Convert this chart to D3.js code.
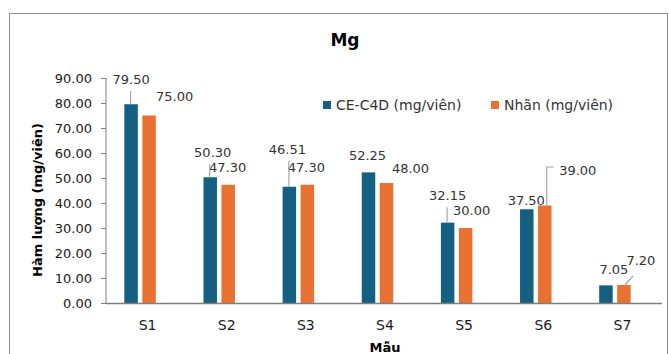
<!DOCTYPE html>
<html>
<head>
<meta charset="utf-8">
<script src="https://cdn.jsdelivr.net/npm/d3@7/dist/d3.min.js"></script>
<style>
  html, body { margin: 0; padding: 0; background: #fff; }
  svg { display: block; font-family: "DejaVu Sans", sans-serif; }
</style>
</head>
<body>
<svg id="chart" width="669" height="354"></svg>
<script>
// Samples and measured Mg content (mg/viên)
const categories = ["S1", "S2", "S3", "S4", "S5", "S6", "S7"];
const seriesNames = ["CE-C4D (mg/viên)", "Nhãn (mg/viên)"];
const ceC4D = [79.50, 50.30, 46.51, 52.25, 32.15, 37.50, 7.05];
const nhan = [75.00, 47.30, 47.30, 48.00, 30.00, 39.00, 7.20];
const yTicks = [0, 10, 20, 30, 40, 50, 60, 70, 80, 90];

const colors = ["#156082", "#E97132"];

// Label placement relative to the top of each bar: [dx, dy] and an optional leader path
const labelPos = [
  [[0, -20, "v"], [25.5, -14.5]],
  [[2.5, -20, "v"], [-0.5, -12.5]],
  [[-2, -33, "v"], [-1, -12.5]],
  [[-1, -12.5], [24, -10]],
  [[0, -22.5, "v"], [6, -13]],
  [[-0.5, -4], [33, -30.5, "elbow"]],
  [[8, -11.5], [17, -20, "diag"]]
];

const svg = d3.select("#chart");
const margin = { left: 106, right: 662, top: 78, bottom: 303 };

// Chart frame
svg.append("rect")
  .attr("x", 9.5).attr("y", 13.5)
  .attr("width", 658).attr("height", 400)
  .attr("fill", "none").attr("stroke", "#8c8c8c").attr("stroke-width", 1);

// Title
svg.append("text")
  .attr("x", 345).attr("y", 46)
  .attr("text-anchor", "middle")
  .attr("font-weight", "bold").attr("font-size", 17)
  .attr("fill", "#000")
  .text("Mg");

const x = d3.scaleBand().domain(categories).range([106, 660]).paddingInner(0).paddingOuter(0);
const x1 = d3.scaleBand().domain([0, 1])
  .range([x.bandwidth() / 2 - 21.25, x.bandwidth() / 2 + 10.25])
  .paddingInner(0.25).paddingOuter(0);
const y = d3.scaleLinear().domain([0, 90]).range([margin.bottom, margin.top]);

// Y axis
const yAxis = svg.append("g")
  .attr("transform", `translate(${margin.left},0)`)
  .call(d3.axisLeft(y).tickValues(yTicks).tickSize(5).tickPadding(9).tickFormat(d3.format(".2f")));
yAxis.select(".domain").attr("stroke", "#7f7f7f").attr("d", `M0,${margin.bottom}V${y(90)}`);
yAxis.selectAll(".tick line").attr("stroke", "#7f7f7f");
yAxis.selectAll(".tick text")
  .attr("font-family", "DejaVu Sans, sans-serif")
  .attr("font-size", 13).attr("fill", "#1a1a1a");

// Bars
const data = categories.map((c, i) => ({ cat: c, vals: [ceC4D[i], nhan[i]] }));
const groups = svg.append("g").selectAll("g")
  .data(data).join("g")
  .attr("transform", d => `translate(${x(d.cat)},0)`);

groups.selectAll("rect")
  .data(d => d.vals.map((v, k) => ({ v, k })))
  .join("rect")
  .attr("x", d => x1(d.k))
  .attr("width", x1.bandwidth())
  .attr("y", d => y(d.v))
  .attr("height", d => y(0) - y(d.v))
  .attr("fill", d => colors[d.k]);

// X axis line and category labels
svg.append("line")
  .attr("x1", margin.left).attr("x2", margin.right)
  .attr("y1", margin.bottom + 0.5).attr("y2", margin.bottom + 0.5)
  .attr("stroke", "#7f7f7f").attr("stroke-width", 1.3);

svg.append("g").selectAll("text")
  .data(categories).join("text")
  .attr("x", d => x(d) + x.bandwidth() / 2 + 2)
  .attr("y", 330)
  .attr("text-anchor", "middle")
  .attr("font-size", 14).attr("fill", "#1a1a1a")
  .text(d => d);

// Data labels with leader lines
const labelLayer = svg.append("g");
const leaderLayer = svg.append("g");
const fmt = d3.format(".2f");
data.forEach((d, i) => {
  d.vals.forEach((v, k) => {
    const bx = x(d.cat) + x1(k) + x1.bandwidth() / 2;
    const by = y(v);
    const [dx, dy, leader] = labelPos[i][k];
    const tx = bx + dx, ty = by + dy;
    labelLayer.append("text")
      .attr("x", tx).attr("y", ty)
      .attr("text-anchor", "middle")
      .attr("font-size", 13).attr("fill", "#333")
      .text(fmt(v));
    let path = null;
    if (leader === "v") {
      path = `M${bx - 0.5},${ty + 7}V${by}`;
    } else if (leader === "elbow") {
      path = `M${tx - 24},${ty - 8}H${bx + 2}V${by}`;
    } else if (leader === "diag") {
      path = `M${tx - 8},${ty + 11}L${bx + 1},${by}`;
    }
    if (path) {
      leaderLayer.append("path")
        .attr("d", path)
        .attr("fill", "none").attr("stroke", "#a6a6a6").attr("stroke-width", 1.2);
    }
  });
});

// Legend
const legend = svg.append("g").attr("transform", "translate(323,105)");
const legendX = [0, 168];
seriesNames.forEach((name, k) => {
  const g = legend.append("g").attr("transform", `translate(${legendX[k]},0)`);
  g.append("rect").attr("x", 0).attr("y", -4).attr("width", 8).attr("height", 8).attr("fill", colors[k]);
  g.append("text").attr("x", 13).attr("y", 5)
    .attr("font-size", 14).attr("fill", "#333").text(name);
});

// Axis titles
svg.append("text")
  .attr("transform", "translate(42,200) rotate(-90)")
  .attr("text-anchor", "middle")
  .attr("font-weight", "bold").attr("font-size", 13).attr("fill", "#000")
  .text("Hàm lượng (mg/viên)");

svg.append("text")
  .attr("x", 385).attr("y", 352)
  .attr("text-anchor", "middle")
  .attr("font-weight", "bold").attr("font-size", 13).attr("fill", "#000")
  .text("Mẫu");
</script>
</body>
</html>
